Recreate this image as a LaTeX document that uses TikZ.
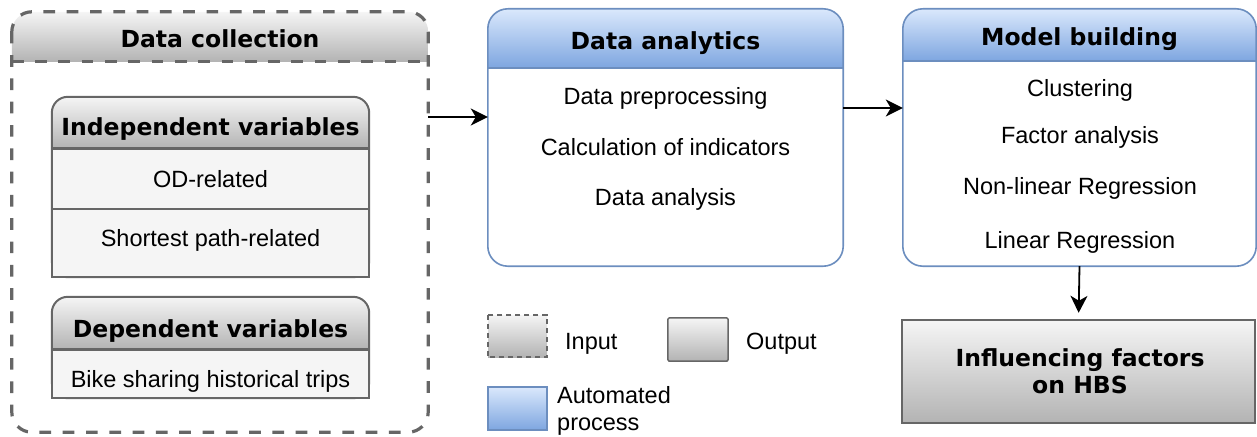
\documentclass[tikz,border=0pt]{standalone}
\usepackage{fontspec}
\setmainfont{Liberation Sans}
\newfontfamily\titlefont{DejaVu Sans}
\usetikzlibrary{arrows.meta}
\definecolor{gstroke}{HTML}{666666}
\definecolor{gtop}{HTML}{F5F5F5}
\definecolor{gbot}{HTML}{B3B3B3}
\definecolor{btop}{HTML}{DAE8FC}
\definecolor{bbot}{HTML}{7EA6E0}
\definecolor{bstroke}{HTML}{6C8EBF}
\definecolor{rowfill}{HTML}{F5F5F5}
\tikzset{
  txt/.style={anchor=base, inner sep=0pt, font=\fontsize{23.5}{27}\selectfont},
  ttl/.style={anchor=base, inner sep=0pt, font=\titlefont\bfseries\fontsize{23.5}{27}\selectfont},
  shape box/.style={draw=none, inner sep=0pt, rectangle},
  dashline/.style={draw=gstroke, line width=3.2pt, dash pattern=on 11.7pt off 11.6pt},
  grayline/.style={draw=gstroke, line width=2pt},
  rowbox/.style={draw=gstroke, line width=1.3pt, fill=rowfill, inner sep=0pt, rectangle},
  blueline/.style={draw=bstroke, line width=1.6pt},
  grayshade/.style={top color=gtop, bottom color=gbot},
  blueshade/.style={top color=btop, bottom color=bbot},
  arr/.style={draw=black, line width=1.8pt, -{Stealth[length=17pt,width=17pt,inset=5pt]}},
}
\begin{document}
\begin{tikzpicture}[x=1pt,y=-1pt]
\useasboundingbox (0,0) rectangle (1257,436);

% ---------- Data collection ----------
\node[shape box, minimum width=416pt, minimum height=420pt] (dc) at (220,222) {};
\begin{scope}
  \clip[rounded corners=20pt] (dc.north west) rectangle (dc.south east);
  \shade[grayshade] (dc.north west) rectangle ([yshift=-50pt]dc.north east);
\end{scope}
\draw[dashline, rounded corners=20pt] (dc.north west) rectangle (dc.south east);
\draw[dashline] ([yshift=-50pt]dc.north west) -- ([yshift=-50pt]dc.north east);
\node[ttl] (dct) at (220,48) {Data collection};

% Independent variables
\node[shape box, minimum width=317pt, minimum height=180pt] (iv) at (210.5,187) {};
\begin{scope}
  \clip[rounded corners=16pt] (iv.north west) rectangle (iv.south east);
  \fill[rowfill] (iv.north west) rectangle (iv.south east);
  \shade[grayshade] (iv.north west) rectangle ([yshift=-52pt]iv.north east);
\end{scope}
\draw[grayline, rounded corners=16pt] (iv.north west) rectangle (iv.south east);
\node[rowbox, minimum width=317pt, minimum height=60pt] (ivr1) at (210.5,179) {};
\node[rowbox, minimum width=317pt, minimum height=68pt] (ivr2) at (210.5,243) {};
\draw[gstroke, line width=2pt] (ivr1.north west) -- (ivr1.north east);
\node[ttl] (ivt) at (210.5,135) {Independent variables};
\node[txt] (iv1) at (210.5,187) {OD-related};
\node[txt] (iv2) at (210.5,246) {Shortest path-related};

% Dependent variables
\node[shape box, minimum width=317pt, minimum height=101pt] (dv) at (210.5,347.5) {};
\begin{scope}
  \clip[rounded corners=16pt] (dv.north west) rectangle (dv.south east);
  \fill[rowfill] (dv.north west) rectangle (dv.south east);
  \shade[grayshade] (dv.north west) rectangle ([yshift=-53pt]dv.north east);
\end{scope}
\draw[grayline, rounded corners=16pt] (dv.north west) rectangle (dv.south east);
\node[rowbox, minimum width=317pt, minimum height=48pt] (dvr1) at (210.5,374) {};
\draw[gstroke, line width=2pt] (dvr1.north west) -- (dvr1.north east);
\node[ttl] (dvt) at (210.5,337) {Dependent variables};
\node[txt] (dv1) at (210.5,387) {Bike sharing historical trips};

% ---------- Data analytics ----------
\node[shape box, minimum width=355pt, minimum height=257pt] (da) at (665.5,137.5) {};
\begin{scope}
  \clip[rounded corners=20pt] (da.north west) rectangle (da.south east);
  \fill[white] (da.north west) rectangle (da.south east);
  \shade[blueshade] (da.north west) rectangle ([yshift=-59pt]da.north east);
\end{scope}
\draw[blueline, rounded corners=20pt] (da.north west) rectangle (da.south east);
\draw[blueline] ([yshift=-59pt]da.north west) -- ([yshift=-59pt]da.north east);
\node[ttl] (dat) at (665.5,50) {Data analytics};
\node[txt] (da1) at (665.5,104) {Data preprocessing};
\node[txt] (da2) at (665.5,155) {Calculation of indicators};
\node[txt] (da3) at (665.5,205) {Data analysis};

% ---------- Model building ----------
\node[shape box, minimum width=353pt, minimum height=257pt] (mb) at (1079.5,137.5) {};
\begin{scope}
  \clip[rounded corners=20pt] (mb.north west) rectangle (mb.south east);
  \fill[white] (mb.north west) rectangle (mb.south east);
  \shade[blueshade] (mb.north west) rectangle ([yshift=-52pt]mb.north east);
\end{scope}
\draw[blueline, rounded corners=20pt] (mb.north west) rectangle (mb.south east);
\draw[blueline] ([yshift=-52pt]mb.north west) -- ([yshift=-52pt]mb.north east);
\node[ttl] (mbt) at (1079.5,46) {Model building};
\node[txt] (mb1) at (1080,96) {Clustering};
\node[txt] (mb2) at (1080,143) {Factor analysis};
\node[txt] (mb3) at (1080,194) {Non-linear Regression};
\node[txt] (mb4) at (1080,248) {Linear Regression};

% ---------- Influencing factors ----------
\node[shape box, minimum width=353pt, minimum height=103pt, grayshade] (inf) at (1078.5,371.5) {};
\draw[grayline] (inf.north west) rectangle (inf.south east);
\node[ttl] (inf1) at (1080,366) {Influencing factors};
\node[ttl] (inf2) at (1080,393) {on HBS};

% ---------- Connectors ----------
\coordinate (y1) at (0,117);
\coordinate (y2) at (0,108);
\draw[arr] (dc.east |- y1) -- (da.west |- y1);
\draw[arr] (da.east |- y2) -- (mb.west |- y2);
\draw[arr, shorten >=7pt] (mb.south) -- (inf.north);

% ---------- Legend ----------
\node[shape box, minimum width=59pt, minimum height=42pt, grayshade] (lin) at (517.5,336) {};
\draw[draw=gstroke, line width=1.5pt, dash pattern=on 5pt off 4pt] (lin.north west) rectangle (lin.south east);
\node[txt, anchor=base west] (linl) at (565,349) {Input};

\node[shape box, minimum width=60pt, minimum height=43pt, grayshade] (lout) at (698,339.5) {};
\draw[draw=gstroke, line width=1.5pt, rounded corners=1.5pt] (lout.north west) rectangle (lout.south east);
\node[txt, anchor=base west] (loutl) at (746,349) {Output};

\node[shape box, minimum width=59pt, minimum height=43pt, blueshade] (lauto) at (517.5,408.5) {};
\draw[blueline] (lauto.north west) rectangle (lauto.south east);
\node[txt, anchor=base west] (lautol1) at (557,403) {Automated};
\node[txt, anchor=base west] (lautol2) at (557,430) {process};
\end{tikzpicture}
\end{document}
